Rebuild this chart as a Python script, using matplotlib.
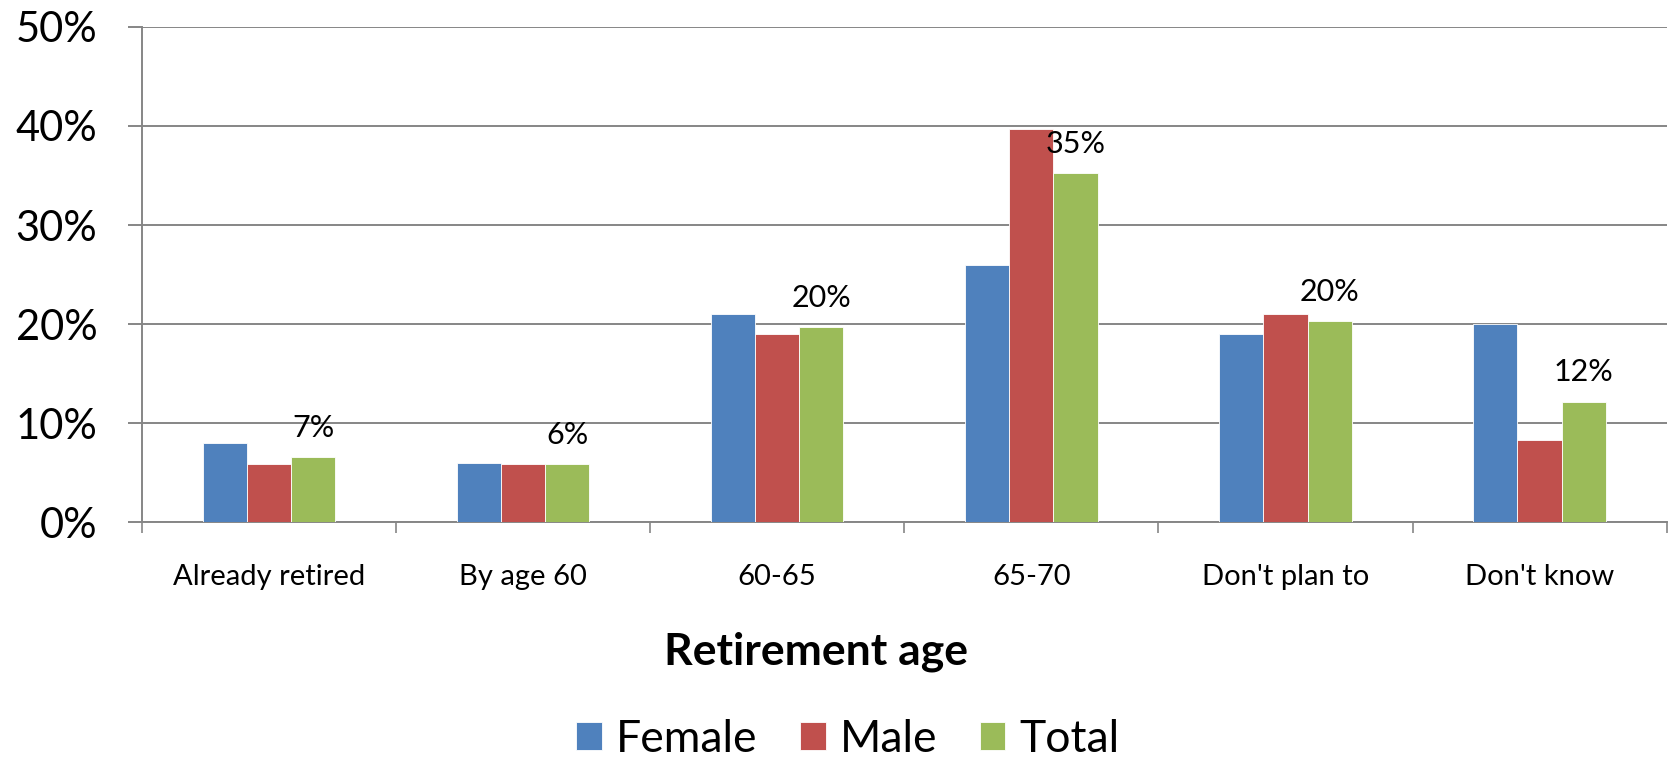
import numpy as np
import matplotlib
matplotlib.use("Agg")
from matplotlib import pyplot as plt
from matplotlib.ticker import FixedLocator, PercentFormatter

categories = ["Already retired", "By age 60", "60-65", "65-70", "Don't plan to", "Don't know"]
female = [8.0, 6.0, 21.0, 26.0, 19.0, 20.0]
male = [5.9, 5.9, 19.0, 39.7, 21.0, 8.3]
total = [6.6, 5.9, 19.7, 35.2, 20.3, 12.2]
total_labels = ["7%", "6%", "20%", "35%", "20%", "12%"]
series_names = ["Female", "Male", "Total"]
colors = ["#4F81BD", "#C0504D", "#9BBB59"]

plt.rcParams['font.family'] = ['Lato', 'DejaVu Sans']

fig = plt.figure(figsize=(16.72, 7.58), dpi=100)
ax = fig.add_axes([0.0848, 0.3107, 0.912, 0.654])

x = np.arange(len(categories))
w = 0.174
for i, (vals, c) in enumerate(zip([female, male, total], colors)):
    ax.bar(x + (i - 1) * w, vals, width=w, color=c, edgecolor="white",
           linewidth=0.6, label=series_names[i], zorder=3)

# labels on the total series
for xi, v, lab in zip(x + w, total, total_labels):
    ax.annotate(lab, (xi, v), xytext=(0, 21), textcoords="offset points",
                ha="center", va="center", fontsize=22, zorder=4)

ax.set_ylim(0, 50)
ax.set_xlim(-0.5, len(categories) - 0.5)
ax.yaxis.set_major_locator(FixedLocator(np.arange(0, 51, 10)))
ax.yaxis.set_major_formatter(PercentFormatter(decimals=0))
ax.grid(axis="y", color="#868686", linewidth=1.4, zorder=0)

# category boundaries as ticks, names in between
ax.xaxis.set_major_locator(FixedLocator(np.arange(-0.5, len(categories), 1.0)))
ax.xaxis.set_major_formatter(plt.NullFormatter())
ax.set_xticks(x, minor=True)
ax.set_xticklabels(categories, minor=True, fontsize=21)
ax.tick_params(axis="x", which="major", length=8, width=1.2, color="#868686", direction="out")
ax.tick_params(axis="x", which="minor", length=0, pad=30)
ax.tick_params(axis="y", length=10, width=1.4, color="#868686", labelsize=30, pad=22)

for s in ["top", "right"]:
    ax.spines[s].set_visible(False)
for s in ["left", "bottom"]:
    ax.spines[s].set_color("#868686")
    ax.spines[s].set_linewidth(1.4)

fig.text(0.488, 1 - 652 / 758, "Retirement age", ha="center", va="center",
         fontsize=32, fontweight="bold")

fig.legend(loc="center", bbox_to_anchor=(0.507, 1 - 739 / 758), ncol=3,
           frameon=False, fontsize=32, handlelength=0.58, handleheight=0.58,
           handletextpad=0.31, columnspacing=0.96)

fig.savefig("out.png", dpi=100)
